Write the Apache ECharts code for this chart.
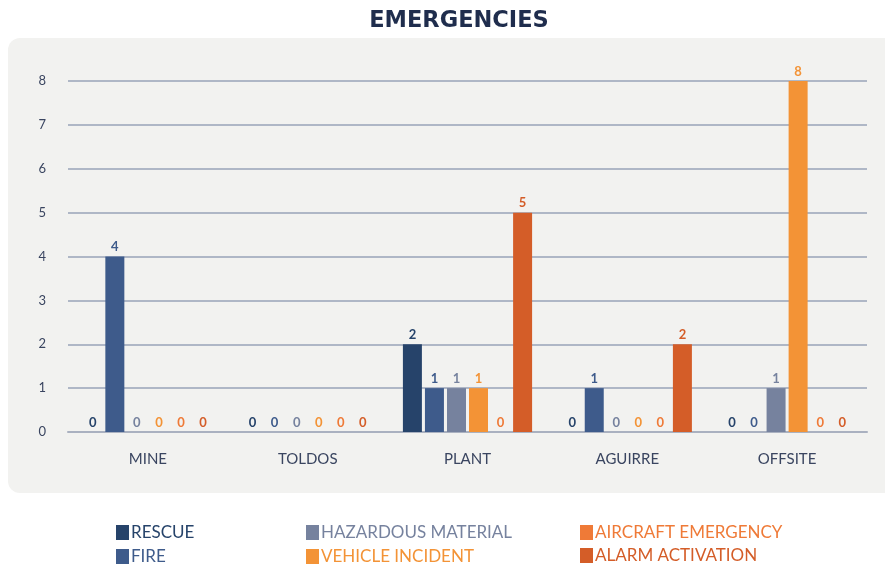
<!DOCTYPE html>
<html><head><meta charset="utf-8">
<script src="https://cdn.jsdelivr.net/npm/echarts@6/dist/echarts.min.js"></script>
<style>html,body{margin:0;padding:0;background:#fff}#c{width:885px;height:567px}</style>
</head><body><div id="c"></div>
<script>
const categories = ['MINE','TOLDOS','PLANT','AGUIRRE','OFFSITE'];
const rescue = [0,0,2,0,0];
const fire = [4,0,1,1,0];
const hazardous = [0,0,1,0,1];
const vehicle = [0,0,1,0,8];
const aircraft = [0,0,0,0,0];
const alarm = [0,0,5,2,0];
const yTicks = [0,1,2,3,4,5,6,7,8];

const seriesDefs = [
  {name:'RESCUE', data:rescue, color:'#26436a', lx:116, ly:524},
  {name:'FIRE', data:fire, color:'#3e5b8b', lx:116, ly:548},
  {name:'HAZARDOUS MATERIAL', data:hazardous, color:'#76829e', lx:306, ly:524},
  {name:'VEHICLE INCIDENT', data:vehicle, color:'#f39336', lx:306, ly:548},
  {name:'AIRCRAFT EMERGENCY', data:aircraft, color:'#ef7a37', lx:580, ly:524},
  {name:'ALARM ACTIVATION', data:alarm, color:'#d45d28', lx:580, ly:547}
];
const FONT = 'Lato';
const chart = echarts.init(document.getElementById('c'));
chart.setOption({
  animation:false,
  title:{text:'EMERGENCIES', left:454, textAlign:'center', top:5, textStyle:{fontFamily:'DejaVu Sans', fontWeight:'bold', fontSize:22.5, color:'#1f2d4d'}},
  graphic:[{type:'rect', shape:{x:8,y:38,width:900,height:455,r:12}, style:{fill:'#f2f2f0'}, z:-10}],
  legend: seriesDefs.map(s=>({
    left:s.lx, top:s.ly, padding:0, itemWidth:13, itemHeight:15, icon:'rect', selectedMode:false,
    textStyle:{fontFamily:FONT, fontSize:17, color:s.color, padding:[0,0,0,-3]},
    data:[s.name]
  })),
  grid:{left:68, right:18, top:81, bottom:135},
  xAxis:{type:'category', data:categories, axisTick:{show:false},
    axisLine:{lineStyle:{color:'#aab1c0', width:2}},
    axisLabel:{fontFamily:FONT, fontSize:15, color:'#3a4560', margin:20}},
  yAxis:{type:'value', min:yTicks[0], max:yTicks[yTicks.length-1], interval:1,
    axisLine:{show:false}, axisTick:{show:false},
    splitLine:{lineStyle:{color:'#98a3b8', width:1.5}},
    axisLabel:{fontFamily:FONT, fontSize:13, color:'#3a4560', margin:22}},
  series: seriesDefs.map(s=>({
    name:s.name, type:'bar', data:s.data, barWidth:19, barGap:'16%', barCategoryGap:'20%',
    itemStyle:{color:s.color},
    label:{show:true, position:'top', distance:3, fontFamily:FONT, fontWeight:'bold', fontSize:13, color:s.color}
  }))
});
</script></body></html>
